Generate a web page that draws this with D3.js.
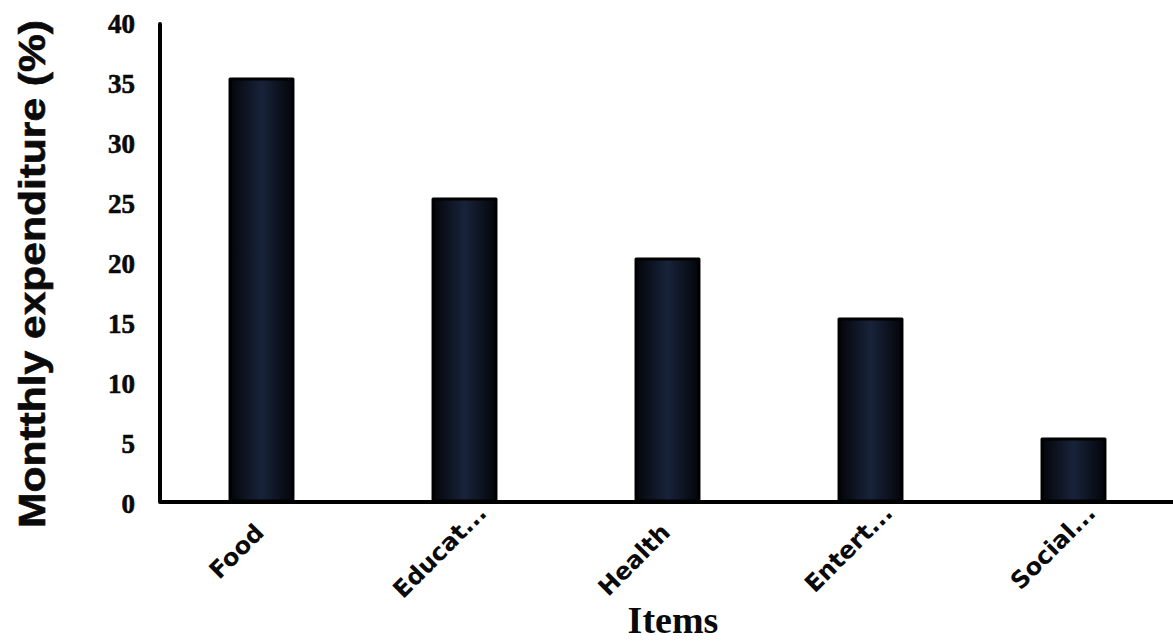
<!DOCTYPE html>
<html>
<head>
<meta charset="utf-8">
<script src="https://cdn.jsdelivr.net/npm/d3@7"></script>
<style>
  html, body { margin: 0; padding: 0; background: #fff; }
  svg { display: block; }
</style>
</head>
<body>
<svg id="chart" width="1173" height="643"></svg>
<script>
// ---- data ----
const categories = ["Food", "Educat...", "Health", "Entert...", "Social..."];
const values = [35, 25, 20, 15, 5];
const yTicks = [0, 5, 10, 15, 20, 25, 30, 35, 40];
const yTitle = "Montthly expenditure (%)";
const xTitle = "Items";

const svg = d3.select("#chart");
const W = 1173, H = 643;

const x = d3.scaleBand().domain(categories).range([160, 1175]).paddingInner(0.69).paddingOuter(0.345);
const y = d3.scaleLinear().domain([0, 40]).range([501, 21]);

const defs = svg.append("defs");
const g1 = defs.append("linearGradient").attr("id", "barfill").attr("x1", "0").attr("x2", "1").attr("y1", "0").attr("y2", "0");
g1.append("stop").attr("offset", "0%").attr("stop-color", "#03050a");
g1.append("stop").attr("offset", "50%").attr("stop-color", "#18233a");
g1.append("stop").attr("offset", "100%").attr("stop-color", "#03050a");

// bars
svg.append("g").selectAll("rect").data(values).join("rect")
  .attr("x", (d, i) => x(categories[i]))
  .attr("y", d => y(d) - 2)
  .attr("width", x.bandwidth())
  .attr("height", d => y(0) - y(d) + 2)
  .attr("fill", "url(#barfill)")
  .attr("stroke", "#000")
  .attr("stroke-width", 3)
  .attr("stroke-linejoin", "round");

// axes lines
const axisPath = d3.path();
axisPath.moveTo(160, y(40) + 3);
axisPath.lineTo(160, y(0) + 1);
axisPath.lineTo(W, y(0) + 1);
svg.append("path").attr("d", axisPath.toString())
  .attr("fill", "none").attr("stroke", "#000").attr("stroke-width", 4)
  .attr("stroke-linejoin", "round").attr("stroke-linecap", "round");

// y tick labels
svg.append("g").selectAll("text").data(yTicks).join("text")
  .attr("x", 135)
  .attr("y", d => y(d) + 6)
  .attr("text-anchor", "end")
  .attr("dominant-baseline", "middle")
  .attr("font-family", "'Liberation Serif', serif")
  .attr("font-weight", "bold")
  .attr("font-size", 27)
  .attr("fill", "#0a0a0a")
  .attr("stroke", "#0a0a0a")
  .attr("stroke-width", 0.6)
  .text(d => d);

// x labels rotated
const xl = svg.append("g");
categories.forEach(c => {
  const base = c.replace("...", "");
  const hasDots = c.endsWith("...");
  const cx = x(c) + x.bandwidth() / 2 + 4;
  const cy = 534;
  const gg = xl.append("g").attr("transform", `translate(${cx},${cy}) rotate(-45)`);
  gg.append("text")
    .attr("text-anchor", "end")
    .attr("font-family", "'DejaVu Sans', sans-serif")
    .attr("font-weight", "bold")
    .attr("font-size", 24)
    .attr("fill", "#0a0a0a")
    .text(base);
  if (hasDots) {
    gg.append("text")
      .attr("text-anchor", "start")
      .attr("font-family", "'DejaVu Sans', sans-serif")
      .attr("font-weight", "bold")
      .attr("font-size", 24)
      .attr("fill", "#0a0a0a")
      .text("...");
  }
});

// axis titles
svg.append("text")
  .attr("x", 673).attr("y", 633)
  .attr("text-anchor", "middle")
  .attr("font-family", "'Liberation Serif', serif")
  .attr("font-weight", "bold")
  .attr("font-size", 38)
  .attr("fill", "#0a0a0a")
  .text(xTitle);

svg.append("text")
  .attr("transform", `translate(45, ${(20 + 528) / 2}) rotate(-90)`)
  .attr("text-anchor", "middle")
  .attr("font-family", "'Liberation Sans', sans-serif")
  .attr("font-weight", "bold")
  .attr("font-size", 36)
  .attr("textLength", 508)
  .attr("lengthAdjust", "spacingAndGlyphs")
  .attr("fill", "#0a0a0a")
  .attr("stroke", "#0a0a0a")
  .attr("stroke-width", 0.6)
  .text(yTitle);
</script>
</body>
</html>
